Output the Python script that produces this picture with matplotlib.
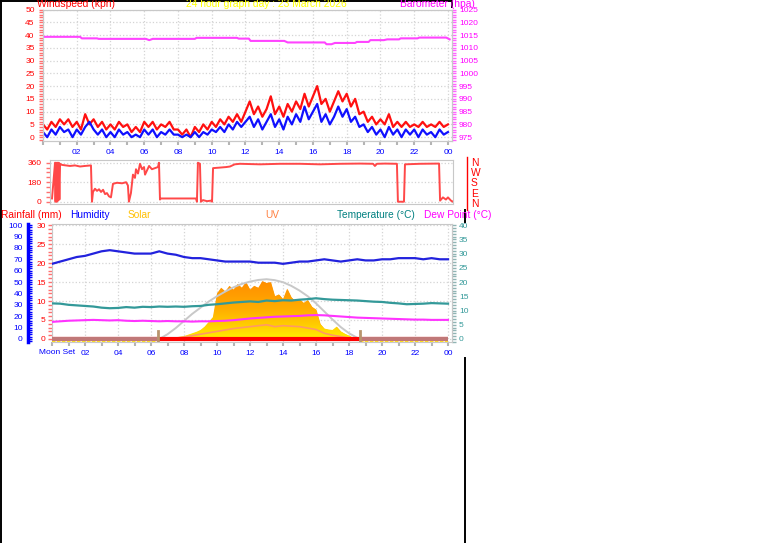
import numpy as np
import matplotlib.pyplot as plt
from matplotlib.ticker import MultipleLocator
from matplotlib.colors import LinearSegmentedColormap
from matplotlib.lines import Line2D

plt.rcParams['font.family'] = ['Liberation Sans', 'DejaVu Sans']

W, H = 761, 543

# --- panel 1: wind speed (kph), 15 minute readings, and barometer (hPa)
wind_hours = np.arange(0, 24.01, 0.25)
gust_kph = [5, 3, 6, 4, 7, 5, 7, 4, 6, 3, 9, 5, 7, 4, 6, 3,
            5, 3, 6, 4, 5, 2, 4, 2, 6, 4, 6, 3, 5, 4, 6, 3,
            3, 1, 3, 0, 4, 2, 5, 3, 6, 4, 7, 5, 8, 6, 9, 6,
            10, 14, 9, 12, 8, 11, 16, 9, 12, 8, 13, 10, 14, 11, 17, 12,
            16, 20, 13, 15, 10, 14, 18, 14, 17, 12, 15, 9, 10, 6, 8, 5,
            7, 5, 9, 4, 6, 4, 6, 4, 5, 4, 6, 4, 5, 4, 6, 4, 5]
avg_kph = [2, 0, 3, 1, 4, 2, 3, 0, 3, 1, 4, 6, 3, 1, 3, 0,
           2, 0, 3, 1, 2, 0, 1, 0, 3, 1, 3, 0, 2, 1, 3, 1,
           1, 0, 1, 0, 2, 0, 2, 1, 3, 2, 4, 2, 5, 3, 6, 4,
           6, 8, 4, 7, 3, 6, 9, 4, 7, 3, 8, 5, 9, 6, 12, 7,
           10, 13, 6, 9, 5, 8, 12, 8, 11, 6, 8, 4, 5, 2, 4, 1,
           3, 0, 4, 1, 3, 0, 3, 1, 3, 0, 3, 1, 2, 0, 3, 1, 2]

baro_hours = [0.0, 2.2, 2.3, 3.2, 3.3, 6.1, 6.3, 6.5, 9.0, 9.1, 11.5, 11.6, 12.2,
              12.3, 14.3, 14.5, 16.7, 16.8, 17.1, 17.3, 18.5, 18.6, 19.3, 19.4,
              20.2, 20.4, 21.1, 21.2, 22.2, 22.3, 23.9, 24.1]
baro_hpa = [1014.3, 1014.3, 1013.7, 1013.7, 1013.5, 1013.5, 1013.0, 1013.5, 1013.5,
            1013.9, 1013.9, 1013.6, 1013.6, 1012.7, 1012.7, 1012.1, 1012.1, 1011.4,
            1011.4, 1011.9, 1011.9, 1012.3, 1012.3, 1013.0, 1013.0, 1013.3, 1013.3,
            1013.7, 1013.7, 1014.0, 1014.0, 1013.3]

# --- panel 2: wind direction (degrees)
wdir_hours = [0.12, 0.30, 0.33, 0.36, 0.40, 0.44, 0.48, 0.52, 0.56, 0.60, 0.71, 1.19,
              1.49, 1.79, 2.08, 2.44, 2.50, 2.56, 2.68, 2.80, 2.92, 3.04, 3.16, 3.28,
              3.39, 3.51, 3.63, 3.75, 3.99, 4.29, 4.53, 4.64, 4.70, 4.82, 4.94, 5.06,
              5.12, 5.24, 5.36, 5.48, 5.60, 5.66, 5.78, 5.90, 6.07, 6.25, 6.43, 6.49,
              6.55, 6.60, 8.69, 8.75, 8.81, 8.93, 8.99, 9.11, 9.35, 9.59, 9.65, 9.71,
              10.12, 10.50, 10.72, 11.00, 11.31, 12.51, 13.70, 14.89, 16.08, 17.27,
              18.46, 19.24, 19.35, 19.47, 19.95, 20.66, 20.72, 21.08, 21.14, 22.03,
              23.17, 23.23, 23.40, 23.58, 23.70, 23.88, 24.0]
wdir_deg = [30, 360, 0, 360, 0, 360, 10, 360, 20, 350, 340, 330,
            335, 325, 330, 335, 0, 90, 120, 100, 115, 90, 110, 70,
            80, 50, 40, 165, 175, 170, 180, 150, 0, 80, 250, 220,
            300, 260, 350, 300, 320, 250, 290, 330, 300, 310, 320, 360,
            20, 30, 30, 0, 360, 350, 0, 15, 5, 10, 0, 310,
            315, 320, 325, 345, 350, 345, 350, 350, 345, 350,
            352, 350, 330, 350, 352, 350, 0, 0, 345, 350,
            352, 10, 40, 20, 40, 10, 0]

# --- panel 3: humidity (%), temperature / dew point (C), solar, UV, rain
th_hours = np.arange(0, 24.01, 0.5)
humidity = [66, 68, 70, 72, 73, 75, 77, 78, 77, 76, 75, 75, 75, 77, 75, 74, 72,
            71, 71, 70, 69, 68, 68, 68, 68, 67, 67, 67, 66, 67, 68, 68, 69, 70,
            69, 68, 69, 70, 69, 69, 70, 70, 71, 71, 71, 70, 71, 70, 70]
temp_c = [12.5, 12.4, 12.0, 11.8, 11.6, 11.4, 11.0, 10.8, 10.9, 11.2,
          11.0, 11.3, 11.2, 11.4, 11.3, 11.4, 11.3, 11.5, 11.6, 12.0,
          12.2, 12.5, 12.8, 13.0, 13.2, 13.0, 13.5, 13.3, 13.6, 13.5,
          13.8, 14.0, 14.3, 14.0, 13.8, 13.7, 13.6, 13.5, 13.3, 13.1,
          13.0, 12.7, 12.5, 12.2, 12.3, 12.4, 12.6, 12.5, 12.4]
dew_c = [6.0, 6.2, 6.4, 6.5, 6.6, 6.7, 6.6, 6.5, 6.6, 6.4,
         6.3, 6.4, 6.3, 6.2, 6.3, 6.2, 6.2, 6.1, 6.2, 6.2,
         6.3, 6.4, 6.6, 6.9, 7.2, 7.4, 7.6, 7.8, 7.9, 8.0,
         8.1, 8.3, 8.4, 8.3, 8.1, 7.9, 7.7, 7.5, 7.4, 7.3,
         7.2, 7.1, 7.0, 6.9, 6.8, 6.8, 6.7, 6.7, 6.7]

solar_hours = [6.5, 7.0, 7.5, 8.0, 8.25, 8.5, 8.75, 9.0, 9.25, 9.5, 9.75, 10.0,
               10.25, 10.5, 10.75, 11.0, 11.25, 11.5, 11.75, 12.0, 12.25, 12.5,
               12.75, 13.0, 13.25, 13.5, 13.75, 14.0, 14.25, 14.5, 14.75, 15.0,
               15.25, 15.5, 15.75, 16.0, 16.25, 16.5, 16.75, 17.0, 17.25, 17.5,
               17.75, 18.0, 18.25, 18.5, 18.75]
solar_wm2 = [0, 5, 15, 30, 45, 60, 75, 95, 130, 180, 230, 480,
             540, 500, 560, 520, 580, 540, 600, 520, 560, 540,
             610, 590, 600, 450, 470, 420, 530, 440, 400, 420,
             380, 410, 340, 310, 160, 110, 100, 95, 130, 80,
             55, 35, 15, 5, 0]
solar_max_hours = [6.5, 7, 7.5, 8, 8.5, 9, 9.5, 10, 10.5, 11, 11.5, 12, 12.5,
                   13, 13.5, 14, 14.5, 15, 15.5, 16, 16.5, 17, 17.5, 18, 18.5, 18.7]
solar_max_wm2 = [0, 50, 115, 190, 265, 330, 395, 450, 500, 545, 580, 605, 622,
                 630, 620, 598, 560, 510, 450, 375, 290, 205, 125, 60, 12, 0]
uv_hours = [7, 8, 9, 10, 11, 12, 13, 13.5, 14, 15, 16, 16.5, 17, 18, 18.5]
uv_index = [0, 0.2, 0.5, 0.8, 1.1, 1.3, 1.5, 1.3, 1.4, 1.3, 1.0, 0.6, 0.4, 0.1, 0]
rain_hours = [0, 24]
rain_mm = [0, 0]
sunrise, sunset = 6.42, 18.67

hour_ticks = list(range(2, 25, 2))
hour_labels = ['02', '04', '06', '08', '10', '12', '14', '16', '18', '20', '22', '00']

GRID = dict(color='#D4D4D4', linestyle=':', linewidth=0.9)
FRAME = '#C8C8C8'

fig = plt.figure(figsize=(W / 100, H / 100), dpi=100)
fig.patch.set_facecolor('white')


def px_axes(x0, y0, x1, y1):
    return fig.add_axes([x0 / W, 1 - y1 / H, (x1 - x0) / W, (y1 - y0) / H])


def ftext(x, y, s, **kw):
    fig.text(x / W, 1 - y / H, s, **kw)


def frame(ax):
    for s in ax.spines.values():
        s.set_color(FRAME)


def hour_axis(ax, labels=True):
    ax.set_xticks(hour_ticks)
    ax.set_xticklabels(hour_labels if labels else [])
    ax.xaxis.set_minor_locator(MultipleLocator(1))
    ax.tick_params(axis='x', which='both', colors='#B4B4B4', labelcolor='#0000FF',
                   length=3, width=1.5, labelsize=6, pad=3)


# ---------------- panel 1
ax1 = px_axes(43, 9.5, 452, 141)
ax1.set_xlim(0, 24.24)
ax1.set_ylim(-1.5, 50)
ax1.grid(True, **GRID)
ax1.plot(wind_hours, gust_kph, color='#FF1010', lw=1.6)
ax1.plot(wind_hours, avg_kph, color='#1010FF', lw=1.6)
ax1.yaxis.set_major_locator(MultipleLocator(5))
ax1.yaxis.set_minor_locator(MultipleLocator(1))
ax1.tick_params(axis='y', which='both', colors='#FF7070', labelcolor='#FF0000',
                length=3, width=1, labelsize=6, pad=3)
hour_axis(ax1)
frame(ax1)

ax1b = ax1.twinx()
ax1b.set_ylim(973.5, 1025)
ax1b.plot(baro_hours, baro_hpa, color='#FF44FF', lw=1.5)
ax1b.yaxis.set_major_locator(MultipleLocator(5))
ax1b.yaxis.set_minor_locator(MultipleLocator(1))
ax1b.tick_params(axis='y', which='both', colors='#FF66FF', labelcolor='#FF00FF',
                 length=3, width=1, labelsize=6, pad=2)
frame(ax1b)

# the header line sits partly above the top edge, as in the original page
ftext(37, 7, 'Windspeed (kph)', color='#FF0000', fontsize=7.4, va='baseline')
ftext(186, 7, '24 hour graph day : 23 March 2026', color='#FFFF00', fontsize=7.4,
      va='baseline')
ftext(400, 7, 'Barometer (hpa)', color='#FF00FF', fontsize=7.4, va='baseline')

# ---------------- panel 2
ax2 = px_axes(50, 160, 453, 204)
ax2.set_xlim(0, 24)
ax2.set_ylim(-21, 385)
ax2.set_yticks([0, 180, 360])
ax2.yaxis.set_minor_locator(MultipleLocator(45))
ax2.grid(True, axis='y', **GRID)
ax2.plot(wdir_hours, wdir_deg, color='#FF4848', lw=1.4)
ax2.tick_params(axis='y', which='both', colors='#FF7070', labelcolor='#FF0000',
                length=3, width=1, labelsize=6, pad=3)
ax2.set_xticks([])
frame(ax2)
for lab, yy in zip(['N', 'W', 'S', 'E', 'N'], [163, 173, 183, 194, 204]):
    ftext(471, yy, lab, color='#FF0000', fontsize=7.4, va='center')
fig.add_artist(Line2D([467 / W, 467 / W], [1 - 157 / H, 1 - 210 / H],
                      transform=fig.transFigure, color='#FF0000', lw=1))

# ---------------- panel 3
ax3 = px_axes(52, 224, 452, 342)
ax3.set_xlim(0, 24.24)
ax3.set_ylim(-0.8, 30.3)
ax3.grid(True, **GRID)
ax3.yaxis.set_major_locator(MultipleLocator(5))
ax3.yaxis.set_minor_locator(MultipleLocator(1))
ax3.tick_params(axis='y', which='both', colors='#FF7070', labelcolor='#FF0000',
                length=3, width=1, labelsize=6, pad=1.5)
hour_axis(ax3)
ax3.set_xticks([0] + hour_ticks)
ax3.set_xticklabels([''] + hour_labels)
frame(ax3)
ftext(57, 352, 'Moon Set', color='#0000FF', fontsize=6, ha='center', va='center')


def blank_twin(ylim):
    t = ax3.twinx()
    t.set_ylim(*ylim)
    t.set_yticks([])
    for s in t.spines.values():
        s.set_visible(False)
    return t


# solar radiation area with orange-yellow shading
ax_sol = blank_twin((-32, 1212))
poly = ax_sol.fill_between(solar_hours, solar_wm2, 0, color='#FFA000', lw=0)
sol_cmap = LinearSegmentedColormap.from_list(
    'sol', [(0, '#FFF000'), (0.25, '#FFCC00'), (0.5, '#FFAE00'), (1, '#FF8C00')])
grad = np.linspace(0, 1, 256).reshape(-1, 1)
img = ax_sol.imshow(grad, cmap=sol_cmap, origin='lower', aspect='auto',
                    extent=[solar_hours[0], solar_hours[-1], 0, 620], zorder=1)
img.set_clip_path(poly.get_paths()[0], transform=ax_sol.transData)
ax_sol.set_xlim(ax3.get_xlim())
ax_sol.plot(solar_max_hours, solar_max_wm2, color='#C8C8C8', lw=1.4, zorder=3)

ax_uv = blank_twin((-0.32, 12.12))
ax_uv.plot(uv_hours, uv_index, color='#FF9966', lw=1.2)

# humidity on the outer left axis
ax_h = ax3.twinx()
ax_h.set_ylim(-2.67, 101)
ax_h.yaxis.tick_left()
ax_h.spines['left'].set_position(('outward', 17))
ax_h.spines['left'].set_color('#0000FF')
ax_h.spines['left'].set_linewidth(2.5)
for s in ['right', 'top', 'bottom']:
    ax_h.spines[s].set_visible(False)
ax_h.yaxis.set_major_locator(MultipleLocator(10))
ax_h.yaxis.set_minor_locator(MultipleLocator(2))
ax_h.tick_params(axis='y', which='both', colors='#0000FF', labelcolor='#0000FF',
                 direction='in', length=3, width=1, labelsize=6, pad=4)
ax_h.plot(th_hours, humidity, color='#2222DD', lw=1.6)

# temperature and dew point on the right axis
ax_t = ax3.twinx()
ax_t.set_ylim(-1.07, 40.4)
ax_t.yaxis.set_major_locator(MultipleLocator(5))
ax_t.yaxis.set_minor_locator(MultipleLocator(1))
ax_t.tick_params(axis='y', which='both', colors='#90B4B4', labelcolor='#339999',
                 length=3, width=1, labelsize=6, pad=2)
for s in ['left', 'top', 'bottom']:
    ax_t.spines[s].set_visible(False)
ax_t.spines['right'].set_color(FRAME)
ax_t.plot(th_hours, temp_c, color='#339999', lw=1.6)
ax_t.plot(th_hours, dew_c, color='#FF33FF', lw=1.5)

# rain line with night sections and sunrise / sunset marks
ax_r = blank_twin(ax3.get_ylim())
ax_r.plot(rain_hours, rain_mm, color='#FF0000', lw=3, solid_capstyle='butt')
for h0, h1 in [(0, sunrise), (sunset, 24)]:
    ax_r.plot([h0, h1], [0, 0], color='#C07878', lw=3, solid_capstyle='butt')
    ax_r.plot([h0, h1], [-0.7, -0.7], color='#FFE000', lw=1.2, linestyle=(0, (2, 1)))
for h in [sunrise, sunset]:
    ax_r.plot([h, h], [-0.8, 2.2], color='#B8946C', lw=2)
for a in [ax_sol, ax_uv, ax_h, ax_t, ax_r]:
    a.set_xlim(ax3.get_xlim())

titles = [(1, 'Rainfall (mm)', '#FF0000'), (70, 'Humidity', '#0000FF'),
          (128, 'Solar', '#FFC000'), (265, 'UV', '#FF8040'),
          (337, 'Temperature (\u00b0C)', '#008080'), (424, 'Dew Point (\u00b0C)', '#FF00FF')]
for x, s, c in titles:
    ftext(x, 215, s, color=c, fontsize=7.3, va='center')

# page frame lines
for xs, ys in [([0.7, 0.7], [0, H]), ([0, 452], [0.7, 0.7]), ([452, 452], [0, 7]),
               ([465, 465], [358, H]), ([465, 465], [210, 222])]:
    fig.add_artist(Line2D([x / W for x in xs], [1 - y / H for y in ys],
                          transform=fig.transFigure, color='black', lw=1.4))

fig.savefig('out.png', dpi=100, facecolor='white')
